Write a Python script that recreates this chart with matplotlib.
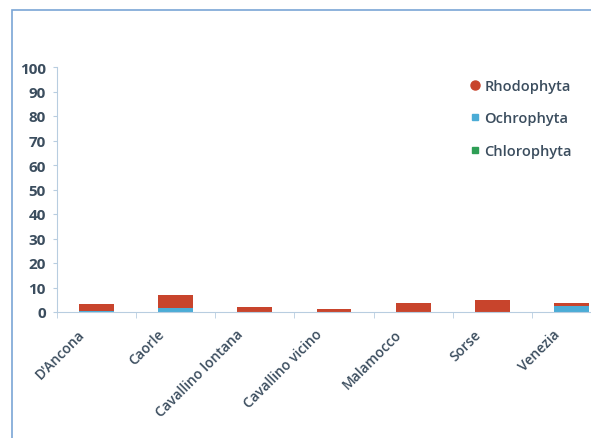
import matplotlib
matplotlib.use("Agg")
import matplotlib.pyplot as plt
import numpy as np
from matplotlib.lines import Line2D
from matplotlib.patches import Rectangle
from matplotlib.transforms import ScaledTranslation

sites = ["D'Ancona", "Caorle", "Cavallino lontana", "Cavallino vicino",
         "Malamocco", "Sorse", "Venezia"]
chlorophyta = [0.0, 0.0, 0.0, 0.0, 0.0, 0.0, 0.0]
ochrophyta = [0.3, 1.6, 0.0, 0.0, 0.0, 0.0, 2.3]
rhodophyta = [3.0, 5.3, 2.0, 1.2, 3.7, 4.8, 1.3]

RED = "#c8442c"
BLUE = "#4bacd6"
GREEN = "#2e9e55"
TEXT = "#3b4d5e"
AXIS = "#b8cde0"

plt.rcParams["font.family"] = ["Open Sans", "DejaVu Sans"]

fig = plt.figure(figsize=(5.91, 4.39), dpi=100)
fig.patch.set_facecolor("white")

# blue frame (cropped on the right and bottom)
fig.patches.append(Rectangle((12 / 591, -0.1), 1.2, 1 - 11 / 439 + 0.1,
                             transform=fig.transFigure, fill=False,
                             edgecolor="#7aa6d6", linewidth=1.2))

ax = fig.add_axes([57 / 591, 1 - 313 / 439, (611 - 57) / 591, (313 - 68) / 439])
x = np.arange(len(sites))
w = 0.44
ax.bar(x, chlorophyta, w, color=GREEN)
ax.bar(x, ochrophyta, w, bottom=chlorophyta, color=BLUE)
base = np.array(chlorophyta) + np.array(ochrophyta)
ax.bar(x, rhodophyta, w, bottom=base, color=RED)

ax.set_xlim(-0.5, len(sites) - 0.5)
ax.set_ylim(0, 100)
ax.set_yticks(range(0, 101, 10))
ax.set_xticks(x)
ax.set_xticks(np.arange(-0.5, len(sites), 1.0), minor=True)
ax.set_xticklabels(sites, rotation=45, ha="right", rotation_mode="anchor")
ax.tick_params(axis="x", which="major", length=0, pad=10.5,
               labelsize=10, labelcolor=TEXT)
ax.tick_params(axis="x", which="minor", length=4, color=AXIS)
ax.tick_params(axis="y", length=3, direction="out", color=AXIS, pad=5,
               labelsize=11, labelcolor=TEXT)
for lbl in ax.get_yticklabels():
    lbl.set_fontweight("bold")
shift = ScaledTranslation(-19 / 100, 0, fig.dpi_scale_trans)
for lbl in ax.get_xticklabels():
    lbl.set_fontweight("semibold")
    lbl.set_transform(lbl.get_transform() + shift)

for s in ["top", "right"]:
    ax.spines[s].set_visible(False)
ax.spines["left"].set_color(AXIS)
ax.spines["bottom"].set_color(AXIS)

handles = [
    Line2D([], [], marker="o", linestyle="", color=RED, markersize=6.5),
    Line2D([], [], marker="s", linestyle="", color=BLUE, markersize=5),
    Line2D([], [], marker="s", linestyle="", color=GREEN, markersize=5),
]
leg = fig.legend(handles, ["Rhodophyta", "Ochrophyta", "Chlorophyta"],
                 loc="upper left", bbox_to_anchor=(462 / 591, 1 - 74 / 439),
                 frameon=False, fontsize=10.5, labelspacing=1.28,
                 handletextpad=0.15, handlelength=1.0, borderaxespad=0)
for t in leg.get_texts():
    t.set_color(TEXT)
    t.set_fontweight("semibold")

fig.savefig("out.png", dpi=100)
